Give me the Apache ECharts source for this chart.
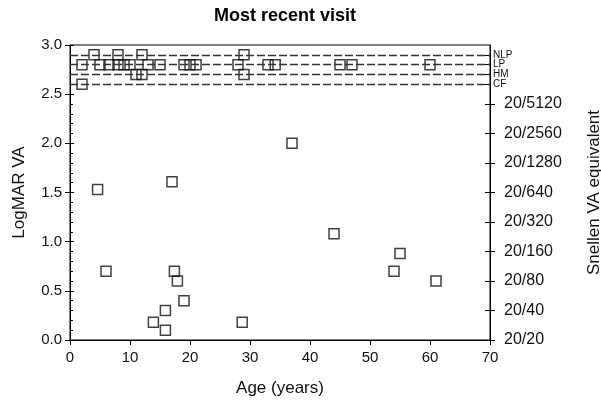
<!DOCTYPE html>
<html><head><meta charset="utf-8">
<script src="https://cdn.jsdelivr.net/npm/echarts@6/dist/echarts.min.js"></script>
<style>html,body{margin:0;padding:0;background:#fff}#c{width:601px;height:407px}</style>
</head><body><div id="c"></div>
<script>
// Age (years) and most-recent-visit LogMAR VA for each eye/patient
const ages   = [4.6, 17.0, 37.0, 44.0, 6.0, 17.4, 17.9, 19.0, 15.9, 13.9, 15.9, 28.7, 55.0, 54.0, 61.0,
                4, 8, 12, 29,
                2, 5, 6.5, 8, 9, 10, 13, 15, 19, 20, 21, 28, 33, 34.2, 45, 47, 60,
                11, 12, 29,
                2];
const logmar = [1.53, 1.61, 2.0, 1.08, 0.7, 0.7, 0.6, 0.4, 0.3, 0.18, 0.1, 0.18, 0.88, 0.7, 0.6,
                2.9, 2.9, 2.9, 2.9,
                2.8, 2.8, 2.8, 2.8, 2.8, 2.8, 2.8, 2.8, 2.8, 2.8, 2.8, 2.8, 2.8, 2.8, 2.8, 2.8, 2.8,
                2.7, 2.7, 2.7,
                2.6];
const levelValues = [2.6, 2.7, 2.8, 2.9];
const levelLabels = ['CF', 'HM', 'LP', 'NLP'];
const snellenValues = [0, 0.3, 0.6, 0.9, 1.2, 1.5, 1.8, 2.1, 2.4];
const snellenLabels = ['20/20', '20/40', '20/80', '20/160', '20/320', '20/640', '20/1280', '20/2560', '20/5120'];

const FONT = 'Liberation Sans, Arial, sans-serif';
const TXT = '#111';
function lookup(vals, labels) {
  return function (v) {
    for (let i = 0; i < vals.length; i++) if (Math.abs(vals[i] - v) < 1e-6) return labels[i];
    return '';
  };
}
const points = ages.map((a, i) => [a, logmar[i]]);

const chart = echarts.init(document.getElementById('c'), null, {renderer: 'canvas'});
chart.setOption({
  animation: false,
  backgroundColor: '#fff',
  title: {
    text: 'Most recent visit', left: 280, top: 2, textAlign: 'center',
    textStyle: {fontFamily: FONT, fontSize: 18, fontWeight: 'bold', color: '#000'}
  },
  grid: {left: 70, right: 111, top: 45, bottom: 67, containLabel: false, outerBoundsMode: 'none',
         show: true, borderColor: '#000', borderWidth: 1, backgroundColor: 'transparent'},
  xAxis: {
    type: 'value', min: 0, max: 70, interval: 10,
    name: 'Age (years)', nameLocation: 'middle', nameGap: 40,
    nameTextStyle: {fontFamily: FONT, fontSize: 17, color: TXT},
    axisLine: {lineStyle: {color: '#000', width: 1}},
    axisTick: {length: 5, lineStyle: {color: '#000'}},
    axisLabel: {fontFamily: FONT, fontSize: 15, color: TXT, margin: 10},
    splitLine: {show: false}
  },
  yAxis: [
    {
      type: 'value', position: 'left', min: 0, max: 3, interval: 0.5,
      name: 'LogMAR VA', nameLocation: 'middle', nameGap: 42, nameRotate: 90,
      nameTextStyle: {fontFamily: FONT, fontSize: 17, color: TXT},
      axisLine: {show: true, lineStyle: {color: '#000', width: 1}},
      axisTick: {show: true, length: 5, lineStyle: {color: '#000'}},
      axisLabel: {fontFamily: FONT, fontSize: 15, color: TXT, margin: 8, formatter: v => v.toFixed(1)},
      splitLine: {show: false}
    },
    {
      type: 'value', position: 'left', min: 0, max: 3, interval: 0.5,
      axisLine: {show: false},
      axisTick: {show: true, inside: true, length: 4, lineStyle: {color: '#000'}},
      minorTick: {show: true, splitNumber: 5, length: 3, lineStyle: {color: '#000'}},
      axisLabel: {show: false}, splitLine: {show: false}
    },
    {
      type: 'value', position: 'right', min: 0, max: 3,
      name: 'Snellen VA equivalent', nameLocation: 'middle', nameGap: 96, nameRotate: 90,
      nameTextStyle: {fontFamily: FONT, fontSize: 17, color: TXT},
      axisLine: {show: true, lineStyle: {color: '#000', width: 1}},
      axisTick: {show: true, length: 5, customValues: snellenValues, lineStyle: {color: '#000'}},
      axisLabel: {fontFamily: FONT, fontSize: 16, color: TXT, margin: 14, customValues: snellenValues,
                  formatter: lookup(snellenValues, snellenLabels)},
      splitLine: {show: false}
    },
    {
      type: 'value', position: 'right', min: 0, max: 3,
      axisLine: {show: false},
      axisTick: {show: true, inside: true, length: 5, customValues: snellenValues, lineStyle: {color: '#000'}},
      axisLabel: {show: false}, splitLine: {show: false}
    },
    {
      type: 'value', position: 'right', min: 0, max: 3,
      axisLine: {show: false},
      axisTick: {show: true, inside: true, length: 6, customValues: levelValues, lineStyle: {color: '#000'}},
      axisLabel: {fontFamily: FONT, fontSize: 10, color: TXT, margin: 3, customValues: levelValues,
                  formatter: lookup(levelValues, levelLabels)},
      splitLine: {show: false}
    }
  ],
  series: [{
    type: 'scatter', yAxisIndex: 0, data: points,
    symbol: 'rect', symbolSize: 10,
    itemStyle: {color: 'rgba(0,0,0,0)', borderColor: '#111', borderWidth: 1.5},
    markLine: {
      silent: true, symbol: ['none', 'none'], label: {show: false},
      lineStyle: {color: '#333', type: [8, 3], width: 1.3},
      data: levelValues.map(v => ({yAxis: v}))
    }
  }]
});
</script>
</body></html>
